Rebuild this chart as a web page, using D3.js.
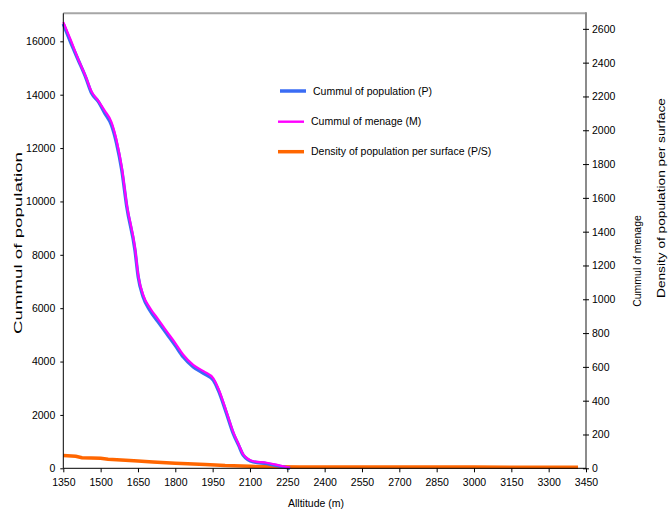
<!DOCTYPE html>
<html>
<head>
<meta charset="utf-8">
<script src="https://cdn.jsdelivr.net/npm/d3@7"></script>
<style>
  html, body { margin: 0; padding: 0; background: #fff; }
  svg { display: block; font-family: "Liberation Sans", Arial, sans-serif; }
</style>
</head>
<body>
<svg id="chart" width="668" height="510"></svg>
<script>
// ---- data ----
const popAltitude = [1350, 1380, 1410, 1440, 1464, 1490, 1517, 1544, 1564, 1585, 1605, 1638, 1651, 1671, 1698, 1730, 1765, 1800, 1832, 1872, 1915, 1953, 1973, 2006, 2033, 2055, 2073, 2113, 2167, 2221, 2261];
const popValues   = [16650, 15950, 15300, 14650, 14050, 13750, 13300, 12850, 12180, 11170, 9800, 8170, 7170, 6420, 5920, 5500, 5050, 4600, 4170, 3800, 3550, 3300, 2920, 2050, 1300, 850, 490, 240, 176, 75, 0];
const menAltitude = [1350, 1380, 1410, 1440, 1464, 1490, 1517, 1544, 1564, 1585, 1605, 1638, 1651, 1671, 1698, 1730, 1765, 1800, 1832, 1872, 1915, 1953, 1973, 2006, 2033, 2055, 2073, 2113, 2167, 2221, 2261];
const menValues   = [2640, 2534, 2421, 2319, 2228, 2176, 2115, 2047, 1941, 1781, 1562, 1305, 1144, 1026, 950, 884, 811, 741, 672, 612, 573, 532, 472, 333, 214, 141, 82, 42, 33, 16, 3];
const denAltitude = [1350, 1400, 1425, 1500, 1530, 1600, 1650, 1710, 1800, 1850, 1920, 2000, 2100, 2200, 2300, 2600, 3000, 3418];
const denValues   = [476, 450, 393, 375, 337, 300, 270, 236, 187, 169, 139, 101, 75, 56, 49, 45, 45, 42];
const xTicks = [1350, 1500, 1650, 1800, 1950, 2100, 2250, 2400, 2550, 2700, 2850, 3000, 3150, 3300, 3450];
const leftTicks = [0, 2000, 4000, 6000, 8000, 10000, 12000, 14000, 16000];
const rightTicks = [0, 200, 400, 600, 800, 1000, 1200, 1400, 1600, 1800, 2000, 2200, 2400, 2600];
const seriesNames = ["Cummul of population (P)", "Cummul of menage (M)", "Density of population per surface (P/S)"];
const seriesColors = ["#3a6cf4", "#ff00ff", "#ff6600"];

// ---- layout ----
const L = 63.3, R = 586, T = 13.3, B = 468.3;
const svg = d3.select("#chart");
const x = d3.scaleLinear().domain([1350, 3450]).range([L, R]);
const yL = d3.scaleLinear().domain([0, 17050]).range([B, T]);
const yR = d3.scaleLinear().domain([0, 2692]).range([B, T]);
const FS = 10.5;

// top border
svg.append("line").attr("x1", L).attr("x2", R).attr("y1", T).attr("y2", T)
  .attr("stroke", "#a6a6a6").attr("stroke-width", 2);
// right axis line (gray)
svg.append("line").attr("x1", R).attr("x2", R).attr("y1", T - 1).attr("y2", B)
  .attr("stroke", "#8c8c8c").attr("stroke-width", 2);

// lines
const line = (xs, ys, sx, sy, curve) => d3.line().curve(curve).x(d => sx(d[0])).y(d => sy(d[1]))(xs.map((v, i) => [v, ys[i]]));
svg.append("path").attr("d", line(denAltitude, denValues, x, yL, d3.curveLinear))
  .attr("fill", "none").attr("stroke", seriesColors[2]).attr("stroke-width", 3.5);
svg.append("path").attr("d", line(popAltitude, popValues, x, yL, d3.curveMonotoneX))
  .attr("fill", "none").attr("stroke", seriesColors[0]).attr("stroke-width", 3.4).attr("stroke-linejoin", "round");
svg.append("path").attr("d", line(menAltitude, menValues, x, yR, d3.curveMonotoneX))
  .attr("fill", "none").attr("stroke", seriesColors[1]).attr("stroke-width", 2.2).attr("stroke-linejoin", "round");

// left axis
const gL = svg.append("g").attr("transform", `translate(${L},0)`)
  .call(d3.axisLeft(yL).tickValues(leftTicks).tickSize(3).tickSizeOuter(0).tickFormat(d3.format("d")));
gL.select(".domain").attr("stroke", "#000").attr("d", `M0,${T}V${B}`);
gL.selectAll("text").attr("font-size", FS).attr("font-family", "Liberation Sans, Arial, sans-serif").attr("fill", "#000").attr("x", -8);

// right axis (ticks cross)
const gR = svg.append("g").attr("transform", `translate(${R},0)`)
  .call(d3.axisRight(yR).tickValues(rightTicks).tickSize(3).tickSizeOuter(0).tickFormat(d3.format("d")));
gR.select(".domain").remove();
gR.selectAll(".tick line").attr("x1", -3).attr("x2", 3).attr("stroke", "#000");
gR.selectAll("text").attr("font-size", FS).attr("font-family", "Liberation Sans, Arial, sans-serif").attr("fill", "#000").attr("x", 6);

// x axis
const gX = svg.append("g").attr("transform", `translate(0,${B})`)
  .call(d3.axisBottom(x).tickValues(xTicks).tickSize(4).tickSizeOuter(0).tickFormat(d3.format("d")));
gX.select(".domain").attr("stroke", "#000").attr("d", `M${L},0H${R}`);
gX.selectAll("text").attr("font-size", FS).attr("font-family", "Liberation Sans, Arial, sans-serif").attr("fill", "#000").attr("y", 10);

// axis titles
svg.append("text").attr("x", 316).attr("y", 507).attr("text-anchor", "middle")
  .attr("font-size", FS).text("Alltitude (m)");
svg.append("text").attr("transform", "translate(22,243) rotate(-90)").attr("text-anchor", "middle")
  .attr("font-size", 11.5).attr("textLength", 182).attr("lengthAdjust", "spacingAndGlyphs")
  .text("Cummul of population");
svg.append("text").attr("transform", "translate(641,261) rotate(-90)").attr("text-anchor", "middle")
  .attr("font-size", FS).text("Cummul of menage");
svg.append("text").attr("transform", "translate(665,198) rotate(-90)").attr("text-anchor", "middle")
  .attr("font-size", 11.5).attr("textLength", 200).attr("lengthAdjust", "spacingAndGlyphs")
  .text("Density of population per surface");

// legend
const legY = [91, 121.7, 151.7];
const legX1 = [280, 278, 278];
const legTx = [313, 311, 311];
seriesNames.forEach((n, i) => {
  svg.append("line").attr("x1", legX1[i]).attr("x2", legX1[i] + 26).attr("y1", legY[i]).attr("y2", legY[i])
    .attr("stroke", seriesColors[i]).attr("stroke-width", i === 1 ? 2.4 : 3.5);
  svg.append("text").attr("x", legTx[i]).attr("y", legY[i]).attr("dy", "0.35em")
    .attr("font-size", FS).text(n);
});
</script>
</body>
</html>
